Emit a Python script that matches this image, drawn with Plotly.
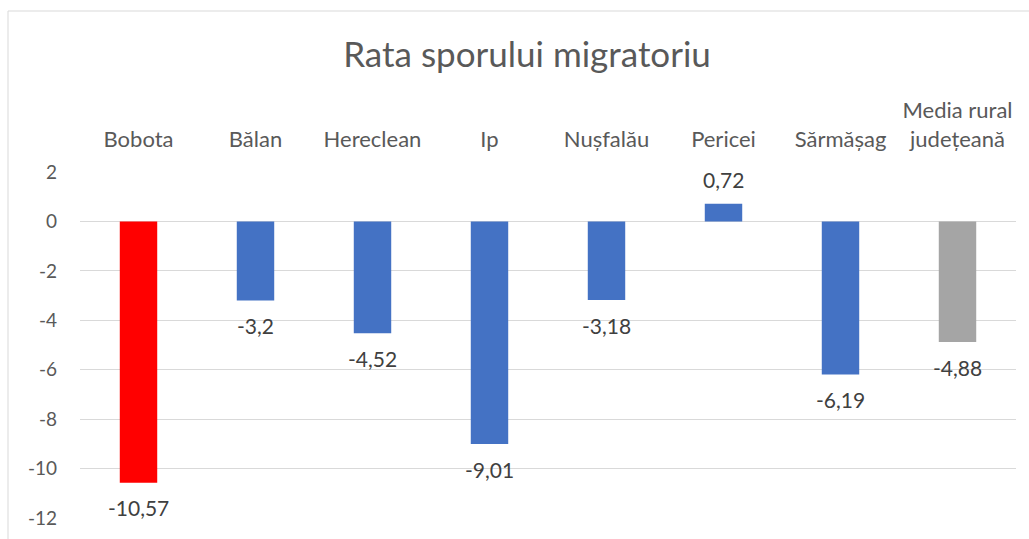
import plotly.graph_objects as go

categories = ["Bobota", "Bălan", "Hereclean", "Ip", "Nușfalău", "Pericei", "Sărmășag", "Media rural<br>județeană"]
values = [-10.57, -3.2, -4.52, -9.01, -3.18, 0.72, -6.19, -4.88]
bar_colors = ["#FF0000", "#4472C4", "#4472C4", "#4472C4", "#4472C4", "#4472C4", "#4472C4", "#A5A5A5"]
y_ticks = [2, 0, -2, -4, -6, -8, -10, -12]

labels = [str(v).replace(".", ",") for v in values]
y_tick_text = [str(t) for t in y_ticks]

FONT = "Lato, Open Sans, sans-serif"

fig = go.Figure(go.Bar(
    x=categories, y=values,
    marker=dict(color=bar_colors, line=dict(width=0)),
    hoverinfo="x+y",
))

annotations = []
for c, v, t in zip(categories, values, labels):
    annotations.append(dict(
        x=c, y=v, xref="x", yref="y", text=t, showarrow=False,
        yanchor="middle", yshift=24 if v >= 0 else -25,
        font=dict(size=21, color="#404040", family=FONT),
    ))

fig.update_layout(
    width=1029, height=539,
    margin=dict(l=80, r=13, t=172, b=21),
    paper_bgcolor="white", plot_bgcolor="white",
    title=dict(text="Rata sporului migratoriu", x=527 / 1029, xanchor="center",
               xref="container",
               y=1 - 55 / 539, yanchor="middle",
               font=dict(size=35, color="#595959", family=FONT)),
    bargap=0.68,
    showlegend=False,
    annotations=annotations,
    xaxis=dict(side="top", showline=False, showgrid=False, ticks="", automargin=False,
               ticklabelstandoff=20,
               tickfont=dict(size=22, color="#595959", family=FONT)),
    yaxis=dict(range=[-12, 2], tickvals=y_ticks, ticktext=y_tick_text, showgrid=True,
               gridcolor="#D9D9D9", gridwidth=1, zeroline=True, zerolinecolor="#D9D9D9",
               zerolinewidth=1, automargin=False,
               showline=False, ticks="", ticklabelstandoff=22,
               tickfont=dict(size=19, color="#595959", family=FONT)),
    shapes=[dict(type="rect", xref="paper", yref="paper",
                 x0=(8 - 80) / 936, x1=1.1, y0=-0.3, y1=1 + (172 - 11) / 346,
                 line=dict(color="#D9D9D9", width=1), fillcolor="rgba(0,0,0,0)", layer="below")],
)

fig.write_html("out.html", config={"displayModeBar": False},
               post_script="document.body.style.margin='0';document.body.style.overflow='hidden';")
